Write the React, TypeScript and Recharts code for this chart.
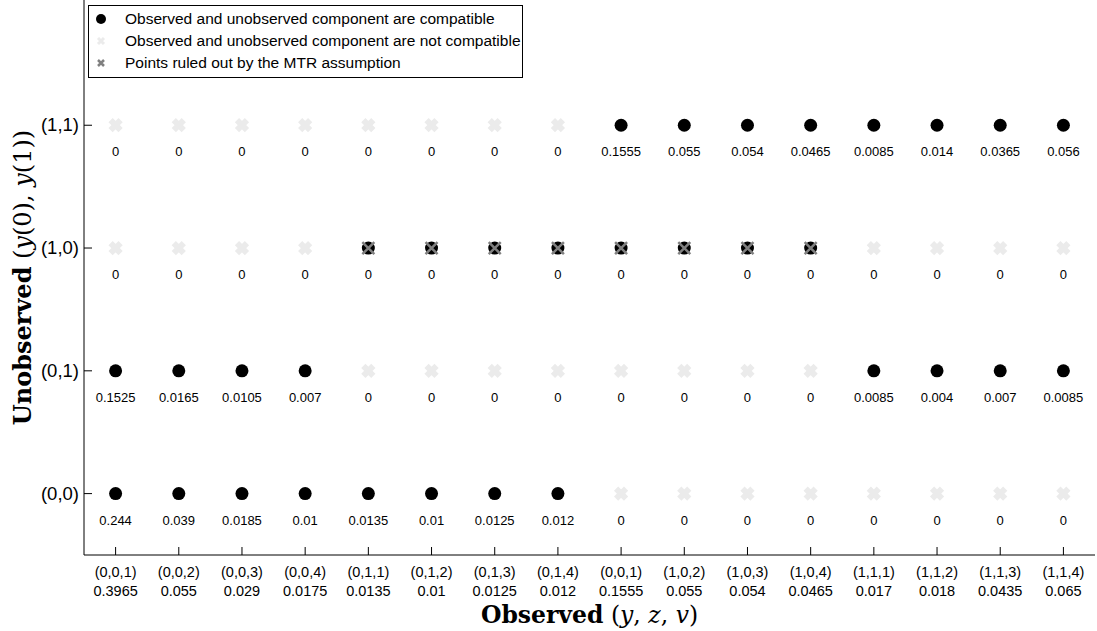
import React from 'react';
import { ScatterChart, Scatter, XAxis, YAxis, Legend, Label } from 'recharts';

const categories = ['(0,0,1)', '(0,0,2)', '(0,0,3)', '(0,0,4)', '(0,1,1)', '(0,1,2)', '(0,1,3)', '(0,1,4)', '(0,0,1)', '(1,0,2)', '(1,0,3)', '(1,0,4)', '(1,1,1)', '(1,1,2)', '(1,1,3)', '(1,1,4)'];
const observedProb = ['0.3965', '0.055', '0.029', '0.0175', '0.0135', '0.01', '0.0125', '0.012', '0.1555', '0.055', '0.054', '0.0465', '0.017', '0.018', '0.0435', '0.065'];
const rowLabels = ['(0,0)', '(0,1)', '(1,0)', '(1,1)'];

const row00 = [0.244, 0.039, 0.0185, 0.01, 0.0135, 0.01, 0.0125, 0.012, 0, 0, 0, 0, 0, 0, 0, 0];
const row01 = [0.1525, 0.0165, 0.0105, 0.007, 0, 0, 0, 0, 0, 0, 0, 0, 0.0085, 0.004, 0.007, 0.0085];
const row10 = [0, 0, 0, 0, 0, 0, 0, 0, 0, 0, 0, 0, 0, 0, 0, 0];
const row11 = [0, 0, 0, 0, 0, 0, 0, 0, 0.1555, 0.055, 0.054, 0.0465, 0.0085, 0.014, 0.0365, 0.056];

// c = compatible, n = not compatible, m = ruled out by MTR
const status00 = ['c', 'c', 'c', 'c', 'c', 'c', 'c', 'c', 'n', 'n', 'n', 'n', 'n', 'n', 'n', 'n'];
const status01 = ['c', 'c', 'c', 'c', 'n', 'n', 'n', 'n', 'n', 'n', 'n', 'n', 'c', 'c', 'c', 'c'];
const status10 = ['n', 'n', 'n', 'n', 'm', 'm', 'm', 'm', 'm', 'm', 'm', 'm', 'n', 'n', 'n', 'n'];
const status11 = ['n', 'n', 'n', 'n', 'n', 'n', 'n', 'n', 'c', 'c', 'c', 'c', 'c', 'c', 'c', 'c'];

const rows = [
  { vals: row00, st: status00 },
  { vals: row01, st: status01 },
  { vals: row10, st: status10 },
  { vals: row11, st: status11 },
];

const points = rows.flatMap((r, ri) =>
  r.vals.map((v, ci) => ({ x: ci + 1, y: ri + 1, v, s: r.st[ci] }))
);
const compatible = points.filter((p) => p.s === 'c');
const notCompatible = points.filter((p) => p.s === 'n');
const mtr = points.filter((p) => p.s === 'm');

const SANS = 'Liberation Sans, Arial, Helvetica, sans-serif';
const SERIF = 'DejaVu Serif, serif';
const LIGHT = '#ebebeb';
const MID = '#808080';

const ValueText = ({ cx, cy, v }: any) => (
  <text x={cx} y={cy + 31} textAnchor="middle" fontSize={13} fontFamily={SANS} fill="#000">
    {String(v)}
  </text>
);

const cross = (cx: number, cy: number, h: number, color: string, w: number) => (
  <path
    d={`M${cx - h},${cy - h}L${cx + h},${cy + h}M${cx - h},${cy + h}L${cx + h},${cy - h}`}
    stroke={color}
    strokeWidth={w}
    fill="none"
  />
);

const CircleShape = (props: any) => {
  const { cx, cy, payload } = props;
  return (
    <g>
      <circle cx={cx} cy={cy} r={6.5} fill="#000" />
      <ValueText cx={cx} cy={cy} v={payload.v} />
    </g>
  );
};

const LightCrossShape = (props: any) => {
  const { cx, cy, payload } = props;
  return (
    <g>
      {cross(cx, cy, 5, LIGHT, 6)}
      <ValueText cx={cx} cy={cy} v={payload.v} />
    </g>
  );
};

const MtrShape = (props: any) => {
  const { cx, cy, payload } = props;
  return (
    <g>
      <circle cx={cx} cy={cy} r={6.5} fill="#000" />
      {cross(cx, cy, 6, MID, 2.5)}
      <ValueText cx={cx} cy={cy} v={payload.v} />
    </g>
  );
};

const XTick = (props: any) => {
  const { x, y, payload } = props;
  const i = payload.value - 1;
  return (
    <g>
      <line x1={x} y1={y} x2={x} y2={y - 8} stroke="#000" strokeWidth={1} />
      <text x={x} y={y + 22} textAnchor="middle" fontSize={14.5} fontFamily={SANS} fill="#000">
        {categories[i]}
      </text>
      <text x={x} y={y + 41} textAnchor="middle" fontSize={14.5} fontFamily={SANS} fill="#000">
        {observedProb[i]}
      </text>
    </g>
  );
};

const YTick = (props: any) => {
  const { x, y, payload } = props;
  const i = payload.value - 1;
  return (
    <g>
      <line x1={x} y1={y} x2={x + 8} y2={y} stroke="#000" strokeWidth={1} />
      <text x={x - 5} y={y + 6} textAnchor="end" fontSize={18.5} fontFamily={SANS} fill="#000">
        {rowLabels[i]}
      </text>
    </g>
  );
};

const XTitle = (props: any) => {
  const vb = props.viewBox;
  const cx = vb.x + vb.width / 2;
  return (
    <text x={cx} y={623} textAnchor="middle" fontSize={23.5} fontFamily={SERIF} fill="#000">
      <tspan fontWeight="bold">Observed</tspan>
      <tspan>{'  ('}</tspan>
      <tspan fontStyle="italic">y</tspan>
      <tspan>{', '}</tspan>
      <tspan fontStyle="italic">z</tspan>
      <tspan>{', '}</tspan>
      <tspan fontStyle="italic">v</tspan>
      <tspan>)</tspan>
    </text>
  );
};

const YTitle = (props: any) => {
  const vb = props.viewBox;
  const cy = vb.y + vb.height / 2;
  const cx = 31;
  return (
    <text
      x={cx}
      y={cy}
      textAnchor="middle"
      fontSize={24}
      fontFamily={SERIF}
      fill="#000"
      transform={`rotate(-90 ${cx} ${cy})`}
    >
      <tspan fontWeight="bold">Unobserved</tspan>
      <tspan>{'  ('}</tspan>
      <tspan fontStyle="italic">y</tspan>
      <tspan>{'(0), '}</tspan>
      <tspan fontStyle="italic">y</tspan>
      <tspan>{'(1))'}</tspan>
    </text>
  );
};

const legendItems = [
  { label: 'Observed and unobserved component are compatible', kind: 'c' },
  { label: 'Observed and unobserved component are not compatible', kind: 'n' },
  { label: 'Points ruled out by the MTR assumption', kind: 'm' },
];

const LegendContent = () => (
  <div
    style={{
      border: '1px solid #000',
      background: '#fff',
      padding: '2px 1px 3px 2px',
      fontFamily: SANS,
      fontSize: 15.5,
      lineHeight: '22px',
      whiteSpace: 'nowrap',
    }}
  >
    {legendItems.map((it) => (
      <div key={it.kind} style={{ display: 'flex', alignItems: 'center' }}>
        <svg width={24} height={22} style={{ flex: 'none' }}>
          {it.kind === 'c' && <circle cx={10} cy={11} r={5} fill="#000" />}
          {it.kind === 'n' && cross(10, 11, 3, LIGHT, 3)}
          {it.kind === 'm' && cross(10, 11, 3, MID, 2.5)}
        </svg>
        <span style={{ marginLeft: 10 }}>{it.label}</span>
      </div>
    ))}
  </div>
);

export default function App() {
  return (
    <div style={{ position: 'absolute', left: 0, top: 0, width: 1097, height: 631, background: '#fff' }}>
      <ScatterChart width={1097} height={631} margin={{ top: 0, right: 2, bottom: 0, left: 0 }}>
        <XAxis
          type="number"
          dataKey="x"
          domain={[0.5, 16.5]}
          ticks={categories.map((_, i) => i + 1)}
          allowDataOverflow
          height={76}
          tickSize={0}
          tickMargin={0}
          tickLine={false}
          axisLine={{ stroke: '#000', strokeWidth: 1 }}
          tick={<XTick />}
          interval={0}
        >
          <Label content={<XTitle />} />
        </XAxis>
        <YAxis
          type="number"
          dataKey="y"
          domain={[0.5, 5.02]}
          ticks={[1, 2, 3, 4]}
          allowDataOverflow
          width={84}
          tickSize={0}
          tickMargin={0}
          tickLine={false}
          axisLine={{ stroke: '#000', strokeWidth: 1 }}
          tick={<YTick />}
          interval={0}
        >
          <Label content={<YTitle />} />
        </YAxis>
        <Legend
          layout="vertical"
          align="center"
          verticalAlign="middle"
          wrapperStyle={{ left: 88, top: 5, width: 'auto', height: 'auto' }}
          content={<LegendContent />}
        />
        <Scatter name="not compatible" data={notCompatible} shape={<LightCrossShape />} isAnimationActive={false} />
        <Scatter name="compatible" data={compatible} shape={<CircleShape />} isAnimationActive={false} />
        <Scatter name="MTR" data={mtr} shape={<MtrShape />} isAnimationActive={false} />
      </ScatterChart>
    </div>
  );
}
